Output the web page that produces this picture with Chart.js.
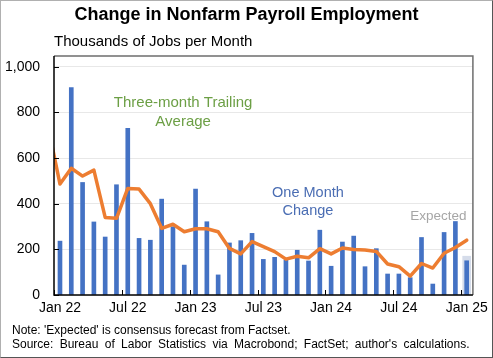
<!DOCTYPE html>
<html>
<head>
<meta charset="utf-8">
<script src="https://cdn.jsdelivr.net/npm/chart.js@4.4.1/dist/chart.umd.min.js"></script>
<style>
  body { margin: 0; background: #fff; }
  #wrap { position: relative; width: 493px; height: 358px; font-family: 'Liberation Sans', Arial, sans-serif; color: #000; }
  #chart { position: absolute; left: 0; top: 0; }
  .frame { position: absolute; left: 0; top: 0; width: 493px; height: 358px; box-sizing: border-box;
           border: 1px solid #b0b0b0; border-right-color: #555; border-bottom-color: #555; pointer-events: none; }
  .title { position: absolute; left: 0; width: 493px; top: 4px; line-height: 20px; text-align: center; font-weight: bold; font-size: 18px; }
  .sub { position: absolute; left: 54px; top: 32px; line-height: 18px; font-size: 15px; }
  .note { position: absolute; left: 12px; line-height: 14px; font-size: 12px; white-space: nowrap; }
</style>
</head>
<body>
<div id="wrap">
  <canvas id="chart" width="493" height="358"></canvas>
  <div class="title">Change in Nonfarm Payroll Employment</div>
  <div class="sub">Thousands of Jobs per Month</div>
  <div class="note" style="top:323px">Note: 'Expected' is consensus forecast from Factset.</div>
  <div class="note" style="top:337px; word-spacing:3px">Source: Bureau of Labor Statistics via Macrobond; FactSet; author's calculations.</div>
  <div class="frame"></div>
</div>
<script>
const FONT = "'Liberation Sans', Arial, sans-serif";

const months = [
  'Jan 22', 'Feb 22', 'Mar 22', 'Apr 22', 'May 22', 'Jun 22', 'Jul 22', 'Aug 22', 'Sep 22', 'Oct 22', 'Nov 22', 'Dec 22',
  'Jan 23', 'Feb 23', 'Mar 23', 'Apr 23', 'May 23', 'Jun 23', 'Jul 23', 'Aug 23', 'Sep 23', 'Oct 23', 'Nov 23', 'Dec 23',
  'Jan 24', 'Feb 24', 'Mar 24', 'Apr 24', 'May 24', 'Jun 24', 'Jul 24', 'Aug 24', 'Sep 24', 'Oct 24', 'Nov 24', 'Dec 24',
  'Jan 25',
];

// one-month change, Jan 22 .. Jan 25
const monthlyChange = [
  236, 909, 493, 320, 254, 483, 730, 248, 240, 420, 299, 131,
  464, 321, 88, 228, 238, 270, 156, 165, 153, 196, 149, 284,
  126, 232, 258, 124, 203, 92, 92, 76, 252, 48, 274, 322,
  150,
];

// three-month trailing average, Dec 21 .. Jan 25 (Dec 21 is clipped at the left edge)
const trailingAvg = [
  725,
  486, 555, 521, 547, 340, 336, 467, 464, 400, 292, 310, 277,
  290, 290, 277, 204, 180, 234, 212, 190, 157, 170, 163, 203,
  180, 206, 199, 197, 191, 136, 124, 83, 138, 118, 183, 208,
  240,
];

const expectedJan25 = 170;

const xTickIdx = [0, 6, 12, 18, 24, 30, 36];
const yTicks = [0, 200, 400, 600, 800, 1000];

const annotations = [
  { text: 'Three-month Trailing', x: 10.9, y: 841, color: '#6c9f45', size: 15 },
  { text: 'Average', x: 10.9, y: 758, color: '#6c9f45', size: 15 },
  { text: 'One Month', x: 21.95, y: 448, color: '#4a6db3', size: 14.5 },
  { text: 'Change', x: 21.95, y: 368, color: '#4a6db3', size: 14.5 },
  { text: 'Expected', x: 33.5, y: 347, color: '#a6a6a6', size: 13.5 },
];

const framePlugin = {
  id: 'frame',
  afterDatasetsDraw(chart) {
    const { ctx, chartArea: a, scales: { x, y } } = chart;
    ctx.save();
    // top + right border
    ctx.strokeStyle = '#6e6e6e';
    ctx.lineWidth = 1.5;
    ctx.beginPath();
    ctx.moveTo(a.left, a.top);
    ctx.lineTo(a.right, a.top);
    ctx.lineTo(a.right, a.bottom);
    ctx.stroke();
    // axes
    ctx.strokeStyle = '#000';
    ctx.beginPath();
    ctx.moveTo(a.left, a.top);
    ctx.lineTo(a.left, a.bottom);
    ctx.lineTo(a.right, a.bottom);
    ctx.stroke();
    // inner tick marks
    ctx.lineWidth = 1;
    ctx.beginPath();
    yTicks.forEach(v => {
      const py = Math.round(y.getPixelForValue(v)) + 0.5;
      ctx.moveTo(a.left, py);
      ctx.lineTo(a.left + 5, py);
    });
    xTickIdx.forEach(i => {
      const px = Math.round(x.getPixelForValue(i - 0.5)) + 0.5;
      ctx.moveTo(px, a.bottom);
      ctx.lineTo(px, a.bottom - 5);
    });
    ctx.stroke();
    // labels inside the plot
    ctx.textAlign = 'center';
    ctx.textBaseline = 'middle';
    annotations.forEach(t => {
      ctx.fillStyle = t.color;
      ctx.font = t.size + 'px ' + FONT;
      ctx.fillText(t.text, x.getPixelForValue(t.x), y.getPixelForValue(t.y));
    });
    ctx.restore();
  },
};

new Chart(document.getElementById('chart'), {
  type: 'bar',
  data: {
    datasets: [
      {
        type: 'line',
        data: trailingAvg.map((v, i) => ({ x: i - 1, y: v })),
        borderColor: '#ed7d31',
        borderWidth: 3.5,
        borderJoinStyle: 'round',
        borderCapStyle: 'round',
        pointRadius: 0,
        tension: 0,
        order: 0,
      },
      {
        data: monthlyChange.map((v, i) => ({ x: i, y: v })),
        backgroundColor: '#4472c4',
        barThickness: 4,
        grouped: false,
        order: 1,
      },
      {
        data: [{ x: months.length - 1, y: expectedJan25 }],
        backgroundColor: '#d5dcea',
        barThickness: 8,
        grouped: false,
        order: 2,
      },
    ],
  },
  options: {
    responsive: false,
    animation: false,
    devicePixelRatio: 1,
    layout: { padding: { top: 56, right: 20, left: 0, bottom: 0 } },
    plugins: { legend: { display: false }, tooltip: { enabled: false } },
    scales: {
      x: {
        type: 'linear',
        offset: false,
        bounds: 'ticks',
        min: -0.53,
        max: 36.55,
        afterFit(s) { s.height = 63; },
        afterBuildTicks(s) { s.ticks = xTickIdx.map(v => ({ value: v })); },
        ticks: {
          callback: v => months[v],
          font: { size: 14, family: FONT },
          color: '#000',
          padding: 5,
          maxRotation: 0,
          autoSkip: false,
        },
        grid: { display: false, drawTicks: false, offset: false },
        border: { display: false },
      },
      y: {
        min: 0,
        max: 1047,
        afterFit(s) { s.width = 54; },
        afterBuildTicks(s) { s.ticks = yTicks.map(v => ({ value: v })); },
        ticks: {
          callback: v => v.toLocaleString('en-US'),
          font: { size: 14, family: FONT },
          color: '#000',
          padding: 14,
        },
        grid: { color: '#e8e8e8', drawTicks: false },
        border: { display: false },
      },
    },
  },
  plugins: [framePlugin],
});
</script>
</body>
</html>
